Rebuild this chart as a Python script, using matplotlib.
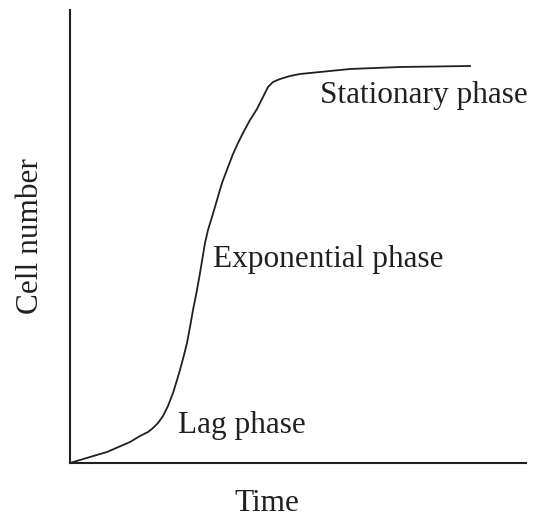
import matplotlib.pyplot as plt

# growth curve (arbitrary units)
time = [0, 20, 37, 60, 70, 78, 83, 88, 93, 98, 103, 107, 110, 114, 117, 120,
        123, 127, 130, 133, 135, 138, 142, 147, 152, 158, 163, 168, 173, 180,
        187, 193, 198, 203, 210, 220, 230, 250, 280, 330, 400]
cells = [0, 6, 11, 21, 27, 31, 35, 40, 47, 57, 70, 83, 93, 108, 120, 136,
         153, 173, 190, 208, 220, 233, 246, 263, 280, 296, 309, 320, 330, 343,
         354, 366, 376, 381, 384, 387, 389, 391, 394, 396, 397]

phase_labels = ['Lag phase', 'Exponential phase', 'Stationary phase']
phase_x = [108, 143, 250]
phase_y = [38, 203, 368]

plt.rcParams['font.family'] = ['Liberation Serif', 'DejaVu Serif']

fig = plt.figure(figsize=(5.34, 5.18), dpi=100)
ax = fig.add_axes([70 / 534, 55 / 518, 456 / 534, 453 / 518])

ax.plot(time, cells, color='#231f20', lw=1.3, solid_joinstyle='round')

for lab, x, y in zip(phase_labels, phase_x, phase_y):
    ax.text(x, y, lab, fontsize=22.5, color='#231f20', ha='left', va='center')

ax.set_xlim(0, 456)
ax.set_ylim(0, 453)
ax.set_xticks([])
ax.set_yticks([])
for side in ['top', 'right']:
    ax.spines[side].set_visible(False)
for side in ['left', 'bottom']:
    ax.spines[side].set_linewidth(1.5)
    ax.spines[side].set_color('#231f20')

ax.set_xlabel('Time', fontsize=22.5, color='#231f20', labelpad=19)
ax.xaxis.label.set_x(0.432)
ax.set_ylabel('Cell number', fontsize=22.5, color='#231f20', labelpad=18)

fig.savefig('out.png', dpi=100)
